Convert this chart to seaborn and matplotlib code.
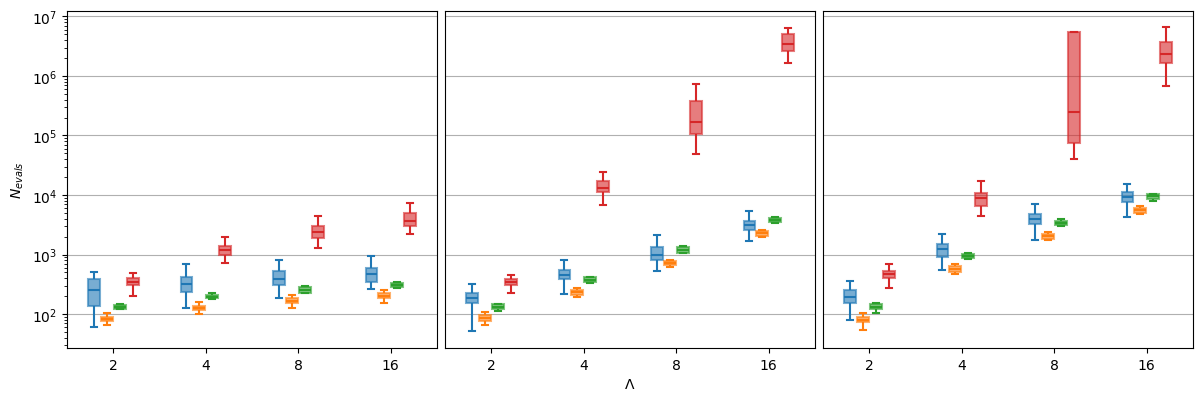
import pandas as pd
import matplotlib.pyplot as plt
import seaborn as sns

# x categories (Lambda) and the four methods (one colour each)
lambdas = ["2", "4", "8", "16"]
methods = ["m1", "m2", "m3", "m4"]
colors = ["tab:blue", "tab:orange", "tab:green", "tab:red"]

# five-number summaries (min, q1, median, q3, max), one tuple per lambda
# --- panel 1 ---
p1_m1 = [(60, 138, 255, 390, 517), (128, 236, 322, 427, 695), (183, 313, 390, 537, 820), (269, 347, 479, 603, 957)]
p1_m2 = [(65, 76, 84, 91, 103), (101, 117, 126, 138, 157), (128, 153, 167, 183, 208), (151, 187, 205, 227, 258)]
p1_m3 = [(121, 123, 131, 141, 145), (178, 183, 197, 213, 222), (227, 230, 255, 283, 294), (279, 286, 313, 339, 352)]
p1_m4 = [(205, 309, 352, 400, 498), (722, 982, 1206, 1390, 1990), (1303, 1914, 2411, 3000, 4467), (2205, 2963, 3685, 4950, 7370)]
# --- panel 2 ---
p2_m1 = [(51, 151, 185, 227, 326), (219, 385, 455, 558, 820), (531, 811, 995, 1337, 2148), (1683, 2570, 3120, 3685, 5420)]
p2_m2 = [(65, 78, 87, 95, 107), (195, 210, 233, 255, 279), (619, 668, 731, 789, 820), (1940, 2041, 2263, 2475, 2606)]
p2_m3 = [(112, 123, 134, 145, 147), (330, 343, 380, 416, 427), (1047, 1074, 1206, 1355, 1407), (3325, 3545, 3830, 4140, 4295)]
p2_m4 = [(227, 309, 352, 395, 460), (6730, 11250, 13130, 16980, 24300), (4.8e4, 1.06e5, 1.71e5, 3.74e5, 7.39e5), (1.68e6, 2.63e6, 3.49e6, 5.13e6, 6.47e6)]
# --- panel 3 ---
p3_m1 = [(80, 155, 197, 249, 366), (558, 921, 1253, 1500, 2205), (1773, 3240, 3930, 4760, 7090), (4245, 7660, 9290, 11250, 15520)]
p3_m2 = [(55, 73, 80, 89, 103), (472, 517, 580, 635, 695), (1750, 1841, 2015, 2205, 2411), (4890, 5080, 5630, 6150, 6560)]
p3_m3 = [(103, 123, 133, 145, 151), (842, 875, 957, 1021, 1061), (3040, 3157, 3410, 3685, 3980), (8060, 8710, 9520, 10280, 10550)]
p3_m4 = [(279, 405, 472, 537, 695), (4410, 6560, 8820, 10690, 17180), (3.96e4, 7.52e4, 2.45e5, 5.54e6, 5.54e6), (6.84e5, 1.68e6, 2.38e6, 3.67e6, 6.71e6)]

panels = [
    [p1_m1, p1_m2, p1_m3, p1_m4],
    [p2_m1, p2_m2, p2_m3, p2_m4],
    [p3_m1, p3_m2, p3_m3, p3_m4],
]


def to_frame(series):
    # 5 points per box -> quartiles land exactly on the summary values
    rows = []
    for method, stats in zip(methods, series):
        for lam, five in zip(lambdas, stats):
            for v in five:
                rows.append({"Lambda": lam, "method": method, "N": v})
    return pd.DataFrame(rows)


fig, axes = plt.subplots(1, 3, figsize=(12.03, 4.02), dpi=100, sharey=True)
fig.subplots_adjust(left=0.0557, right=0.9917, bottom=0.132, top=0.971, wspace=0.0216)

for i, (ax, series) in enumerate(zip(axes, panels)):
    df = to_frame(series)
    for method, color in zip(methods, colors):
        sub = df[df["method"] == method]
        sns.boxplot(data=sub, x="Lambda", y="N", hue="method", hue_order=methods,
                    order=lambdas, palette=colors, saturation=1, dodge=True,
                    width=0.56, gap=0.1, whis=(0, 100), showfliers=False,
                    linecolor=color, linewidth=1.5, log_scale=True,
                    boxprops=dict(alpha=0.6), legend=False, ax=ax)
    ax.set_yscale("log")
    ax.yaxis.grid(True)
    ax.set_axisbelow(True)
    ax.set_xlabel("")
    ax.set_ylabel("")
    if i > 0:
        ax.tick_params(axis="y", which="both", left=False)

axes[0].set_ylim(27, 1.25e7)
axes[0].set_ylabel("$N_{evals}$")
axes[1].set_xlabel("Λ")

fig.savefig("out.png", dpi=100)
